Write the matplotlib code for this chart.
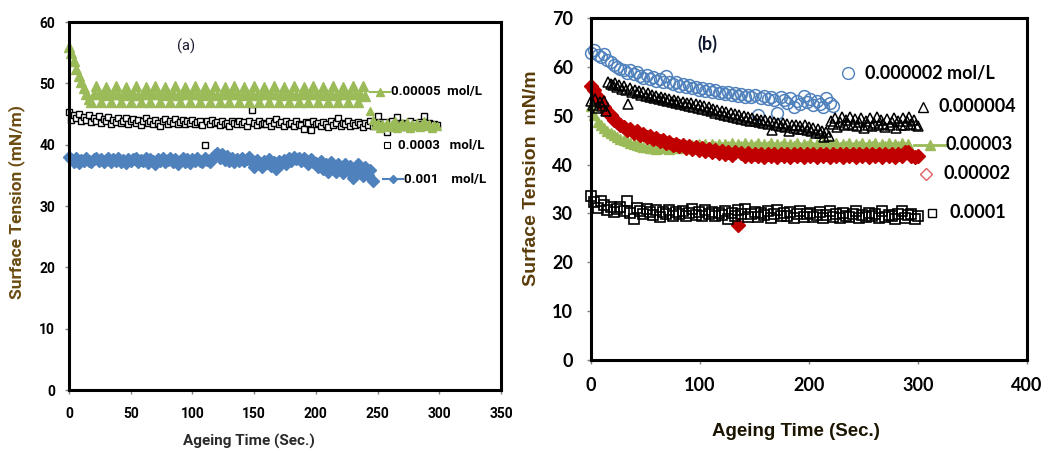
import numpy as np
import matplotlib
matplotlib.use("Agg")
import matplotlib.pyplot as plt

# ---------------- panel (a) data ----------------
# sampling times (s)
t_a_green = list(range(0, 241, 2))
t_a_green_tail = list(range(244, 299, 2))
t_a_black = list(range(0, 299, 2))
t_a_blue = list(range(0, 247, 2))

st_a_green = [56.0, 55.0, 53.6, 52.4, 51.2, 50.2, 49.2, 48.3, 47.5, 47.0,
              48.2, 49.5, 48.2, 47.0, 48.2, 49.4, 48.1, 47.0,
              48.2, 49.5, 48.2, 47.0, 48.1, 49.4, 48.2, 47.0,
              48.2, 49.5, 48.1, 47.0, 48.2, 49.4, 48.2, 47.0,
              48.2, 49.5, 48.2, 47.0, 48.1, 49.4, 48.2, 47.0,
              48.2, 49.5, 48.1, 47.0, 48.2, 49.4, 48.2, 47.0,
              48.2, 49.5, 48.2, 47.0, 48.1, 49.4, 48.2, 47.0,
              48.2, 49.5, 48.1, 47.0, 48.2, 49.4, 48.2, 47.0,
              48.2, 49.5, 48.2, 47.0, 48.1, 49.4, 48.2, 47.0,
              48.2, 49.5, 48.1, 47.0, 48.2, 49.4, 48.2, 47.0,
              48.2, 49.5, 48.2, 47.0, 48.1, 49.4, 48.2, 47.0,
              48.2, 49.5, 48.1, 47.0, 48.2, 49.4, 48.2, 47.0,
              48.2, 49.5, 48.2, 47.0, 48.1, 49.4, 48.2, 47.0,
              48.2, 49.5, 48.1, 47.0, 48.2, 49.4, 48.2, 47.0,
              48.2, 49.5, 48.2, 47.0,
              48.2, 49.5, 48.0]
st_a_green_tail = [45.5, 44.0, 43.2, 43.5, 42.8, 43.4, 43.0, 43.6, 42.9, 43.3,
                   43.8, 42.7, 43.2, 43.5, 43.0, 43.7, 42.8, 43.4, 43.1, 43.6,
                   42.9, 43.3, 43.8, 43.0, 43.4, 42.8, 43.2, 43.0]
st_a_black = [45.3, 44.0, 44.9, 44.3, 45.0, 43.9, 44.5, 44.1, 44.8, 43.7,
              44.4, 43.8, 44.6, 43.5, 44.2, 43.9, 44.5, 43.4, 44.1, 43.7,
              44.3, 43.6, 43.9, 44.4, 43.3, 43.8, 44.2, 43.5, 44.0, 43.2,
              43.8, 44.3, 43.5, 43.9, 43.3, 44.1, 43.6, 43.0, 43.8, 44.2,
              43.4, 43.9, 43.6, 44.2, 43.3, 43.7, 44.0, 43.4, 43.8, 43.5,
              44.1, 43.3, 43.7, 43.9, 43.2, 40.0, 43.8, 43.4, 44.0, 43.5,
              43.7, 43.2, 43.9, 43.4, 43.6, 43.0, 43.8, 43.5, 43.3, 43.9,
              43.4, 43.7, 43.1, 43.8, 45.7, 43.5, 43.2, 43.9, 43.4, 43.6,
              43.3, 43.8, 43.0, 43.6, 44.2, 43.4, 43.7, 43.1, 43.9, 43.3,
              43.6, 43.0, 43.8, 43.4, 43.2, 42.6, 43.7, 43.5, 42.4, 43.8,
              43.3, 43.6, 43.0, 43.7, 43.4, 42.9, 43.8, 43.2, 43.5, 44.3,
              43.1, 43.6, 43.3, 43.8, 43.0, 43.5, 43.2, 43.7, 43.4, 42.9,
              43.6, 43.2, 43.8, 43.0, 43.5, 44.6, 43.3, 43.1, 43.7, 42.1,
              43.4, 43.8, 43.0, 44.5, 43.2, 43.6, 42.9, 43.4, 43.8, 43.1,
              43.5, 43.0, 43.7, 43.3, 44.6, 43.1, 43.5, 42.9, 43.4, 43.2]
st_a_blue = [38.0, 37.6, 37.2, 37.8, 37.0, 37.5, 37.3, 37.9, 37.4, 37.1,
             37.6, 37.9, 37.3, 37.7, 37.2, 37.5, 37.8, 37.1, 37.6, 37.4,
             37.8, 37.2, 37.5, 37.0, 37.7, 37.3, 37.6, 37.9, 37.2, 37.5,
             37.3, 37.8, 37.0, 37.6, 37.4, 36.9, 37.7, 37.3, 37.8, 37.1,
             37.5, 37.9, 37.2, 37.6, 36.9, 37.4, 37.8, 37.2, 37.6, 37.0,
             37.7, 37.3, 37.9, 37.4, 37.1, 37.8, 37.5, 37.2, 37.9, 38.3,
             38.6, 37.8, 38.4, 37.5, 38.2, 37.4, 37.9, 37.2, 37.7, 37.4,
             37.8, 37.3, 37.6, 38.0, 37.2, 36.4, 37.5, 37.0, 36.3, 37.4,
             37.0, 37.6, 36.5, 37.2, 36.1, 37.4, 36.8, 37.5, 36.9, 37.8,
             37.4, 38.0, 37.6, 37.9, 37.3, 37.8, 37.5, 36.9, 37.6, 37.2,
             37.0, 36.4, 37.3, 36.0, 36.8, 35.5, 37.2, 36.3, 35.6, 36.9,
             36.2, 35.4, 36.8, 35.8, 36.5, 34.6, 35.2, 36.9, 35.8, 34.9,
             36.3, 35.0, 35.8, 34.0]

labels_a = ["0.00005  mol/L", "0.0003   mol/L", "0.001    mol/L"]

# ---------------- panel (b) data ----------------
t_b_circ = list(range(0, 223, 3))
t_b_tri = list(range(0, 301, 2))
t_b_green = list(range(0, 292, 3))
t_b_red = list(range(0, 301, 3))
t_b_sq = list(range(0, 301, 3))

st_b_circ = [62.8, 63.4, 62.5, 62.0, 62.6, 61.5, 61.0, 60.4, 60.0, 59.6,
             59.3, 58.8, 59.4, 58.5, 58.9, 58.2, 57.8, 58.3, 57.6, 57.9,
             57.2, 57.6, 56.9, 58.2, 56.8, 56.4, 56.9, 56.1, 56.5, 55.8,
             56.2, 55.6, 55.9, 55.3, 55.7, 55.0, 55.4, 54.9, 55.2, 54.7,
             54.9, 54.5, 54.8, 54.2, 54.6, 54.0, 54.5, 53.9, 54.3, 53.8,
             54.2, 50.2, 53.7, 54.1, 53.5, 53.9, 53.2, 50.6, 53.8, 53.3,
             52.6, 53.6, 51.8, 53.1, 52.5, 54.0, 52.8, 53.5, 52.2, 53.0,
             52.4, 51.8, 53.6, 52.6, 51.9]
st_b_tri = [53.0, 52.2, 53.4, 51.5, 52.8, 52.0, 53.1, 51.0, 56.9, 56.5,
            56.2, 56.6, 55.8, 56.3, 55.5, 56.0, 55.2, 52.5, 55.6, 54.9,
            55.3, 54.6, 55.0, 54.3, 54.8, 54.0, 54.6, 53.8, 54.3, 53.6,
            54.1, 53.4, 53.9, 53.2, 53.7, 53.0, 53.5, 52.8, 53.3, 52.6,
            53.1, 52.4, 52.9, 52.2, 52.7, 52.0, 52.6, 51.8, 52.4, 51.6,
            52.2, 51.4, 51.9, 51.1, 51.7, 50.9, 51.4, 50.6, 51.2, 50.4,
            51.0, 50.2, 50.8, 50.0, 50.6, 49.8, 50.4, 49.6, 50.2, 49.4,
            50.0, 49.2, 49.8, 49.0, 49.6, 48.9, 49.4, 48.7, 49.2, 48.5,
            49.1, 48.3, 48.9, 47.1, 48.8, 48.0, 48.6, 47.9, 48.5, 47.7,
            48.4, 46.8, 48.2, 47.5, 48.1, 47.3, 47.9, 47.2, 48.0, 47.0,
            47.7, 46.9, 47.5, 46.4, 47.2, 46.5, 46.9, 45.6, 46.6, 45.9,
            49.0, 48.3, 49.5, 47.6, 48.8, 49.7, 48.0, 49.1, 48.4, 49.8,
            48.1, 49.3, 47.9, 48.7, 49.6, 47.4, 48.9, 48.2, 49.5, 47.8,
            48.6, 49.7, 48.0, 49.2, 48.4, 47.6, 49.4, 48.1, 48.8, 49.6,
            47.5, 48.9, 48.2, 49.5, 48.0, 49.0, 49.8, 48.3, 49.2, 48.1,
            47.8]
st_b_green = [52.0, 50.2, 48.8, 48.0, 47.4, 46.9, 46.4, 46.0, 45.6, 45.3,
              45.0, 44.8, 44.5, 44.2, 44.0, 43.8, 43.6, 43.5, 43.3, 43.4,
              43.2, 43.6, 43.3, 43.7, 43.2, 43.8, 43.3, 43.9, 43.4, 44.0,
              43.5, 44.1, 43.6, 44.2, 43.5, 44.3, 43.6, 44.2, 43.7, 44.3,
              43.6, 44.3, 43.7, 44.4, 43.6, 44.3, 43.7, 44.4, 43.6, 44.3,
              43.7, 44.4, 43.6, 44.3, 43.7, 44.4, 43.6, 44.3, 43.7, 44.4,
              43.6, 44.3, 43.7, 44.4, 43.6, 44.3, 43.7, 44.4, 43.6, 44.3,
              43.7, 44.4, 43.6, 44.3, 43.7, 44.4, 43.6, 44.3, 43.7, 44.4,
              43.6, 44.3, 43.7, 44.4, 43.6, 44.3, 43.7, 44.4, 43.6, 44.3,
              43.7, 44.4, 43.6, 44.3, 43.7, 44.4, 43.6, 44.2]
st_b_red = [56.0, 55.2, 53.8, 52.6, 51.8, 50.7, 50.1, 49.2, 48.8, 48.0,
            47.7, 47.1, 47.3, 46.5, 46.8, 46.0, 46.2, 45.6, 45.8, 45.2,
            45.4, 44.8, 45.0, 44.4, 44.6, 44.0, 44.3, 43.7, 44.0, 43.4,
            43.7, 43.1, 43.5, 42.9, 43.3, 42.7, 43.1, 42.5, 42.9, 42.3,
            42.7, 42.2, 42.6, 42.0, 42.5, 27.7, 42.4, 41.8, 42.3, 41.7,
            42.2, 41.7, 42.2, 41.6, 42.2, 41.7, 42.1, 41.6, 42.2, 41.7,
            42.2, 41.6, 42.1, 41.7, 42.2, 41.6, 42.1, 41.7, 42.2, 41.6,
            42.2, 41.7, 42.1, 41.6, 42.2, 41.7, 42.1, 41.6, 42.2, 41.7,
            42.2, 41.6, 42.1, 41.7, 42.2, 41.6, 42.1, 41.7, 42.2, 41.6,
            42.2, 41.7, 42.1, 41.6, 42.2, 41.7, 42.5, 42.6, 41.8, 41.6,
            41.8]
st_b_sq = [33.6, 32.4, 31.2, 32.5, 31.8, 30.6, 31.3, 30.2, 30.9, 31.4,
           30.5, 32.6, 30.1, 28.8, 31.2, 30.4, 29.8, 30.9, 30.2, 29.6,
           30.6, 29.3, 30.3, 29.9, 30.7, 29.5, 30.2, 29.8, 30.5, 29.4,
           30.1, 31.0, 29.7, 30.3, 29.5, 30.8, 29.9, 30.2, 29.4, 30.0,
           29.6, 30.4, 28.9, 30.0, 29.5, 30.6, 29.8, 30.9, 29.3, 29.9,
           30.3, 29.2, 30.0, 29.6, 30.4, 29.1, 29.8, 30.8, 29.4, 30.1,
           29.5, 30.3, 29.0, 29.9, 30.5, 29.3, 29.8, 30.1, 29.2, 29.7,
           30.2, 29.0, 29.6, 30.4, 29.3, 29.8, 29.1, 30.0, 29.5, 29.2,
           29.9, 30.5, 29.1, 29.6, 29.3, 30.0, 29.4, 29.8, 29.0, 30.4,
           29.2, 29.7, 29.5, 28.9, 29.8, 30.5, 29.1, 29.6, 29.9, 28.8,
           29.5]

labels_b = ["0.000002 mol/L", "0.000004", "0.00003", "0.00002", "0.0001"]

GREEN = "#9bbb59"
BLUE = "#4f81bd"
RED = "#c00000"
BROWN = "#6b4c12"
NARROW = ["Liberation Sans Narrow", "Roboto", "DejaVu Sans"]
CALIB = ["Lato", "DejaVu Sans"]
ARIAL = ["Liberation Sans", "DejaVu Sans"]

fig = plt.figure(figsize=(10.42, 4.5), dpi=100)

# ================= panel (a) =================
ax = fig.add_axes([0.0662, 0.1333, 0.4146, 0.8178])
ax.plot(t_a_black, st_a_black, ls="none", marker="s", ms=5, mfc="white",
        mec="black", mew=1.0, clip_on=False)
ax.plot(t_a_green, st_a_green, ls="none", marker="^", ms=7, color=GREEN,
        mec=GREEN, clip_on=False)
ax.plot(t_a_green_tail, st_a_green_tail, ls="none", marker="^", ms=5.5,
        color=GREEN, mec=GREEN, clip_on=False)
ax.plot(t_a_blue, st_a_blue, ls="none", marker="D", ms=6, color=BLUE,
        mec=BLUE, clip_on=False)

ax.set_xlim(0, 350)
ax.set_ylim(0, 60)
ax.set_xticks(range(0, 351, 50))
ax.set_yticks(range(0, 61, 10))
for s in ax.spines.values():
    s.set_linewidth(2.2)
    s.set_color("black")
ax.tick_params(direction="out", length=3, width=1, color="gray")
ax.tick_params(axis="x", pad=9)
ax.tick_params(axis="y", pad=7)
for lab in ax.get_xticklabels() + ax.get_yticklabels():
    lab.set_family(NARROW)
    lab.set_fontweight("bold")
    lab.set_fontsize(10)

ax.text(0.27, 0.935, "(a)", transform=ax.transAxes, family=NARROW,
        fontsize=10.5, ha="center", va="center", color="#1a1a2e")

# scattered legend keys
ax.plot([0.697, 0.742], [0.81, 0.81], transform=ax.transAxes, color=GREEN,
        lw=1.5, clip_on=False)
ax.plot([0.72], [0.81], transform=ax.transAxes, marker="^", ms=6,
        color=GREEN, clip_on=False)
ax.text(0.745, 0.81, labels_a[0], transform=ax.transAxes, family=NARROW,
        fontweight="bold", fontsize=9.5, va="center")
ax.plot([0.736], [0.665], transform=ax.transAxes, marker="s", ms=4,
        mfc="white", mec="black", mew=0.8, clip_on=False)
ax.text(0.762, 0.665, labels_a[1], transform=ax.transAxes, family=NARROW,
        fontweight="bold", fontsize=9.5, va="center")
ax.plot([0.727, 0.773], [0.573, 0.573], transform=ax.transAxes, color=BLUE,
        lw=1.5, clip_on=False)
ax.plot([0.75], [0.573], transform=ax.transAxes, marker="D", ms=4.5,
        color=BLUE, clip_on=False)
ax.text(0.776, 0.573, labels_a[2], transform=ax.transAxes, family=NARROW,
        fontweight="bold", fontsize=9.5, va="center")

fig.text(17 / 1042, 1 - 202 / 450, "Surface Tension (mN/m)", rotation=90,
         family=NARROW, fontweight="bold", fontsize=12.5, color=BROWN,
         ha="center", va="center")
fig.text(249 / 1042, 1 - 441 / 450, "Ageing Time (Sec.)", family=NARROW,
         fontweight="bold", fontsize=11, color="#2b2b2b",
         ha="center", va="center")

# ================= panel (b) =================
bx = fig.add_axes([0.5672, 0.2, 0.4184, 0.76])
bx.plot(t_b_green, st_b_green, ls="none", marker="^", ms=7, color=GREEN,
        mec=GREEN, clip_on=False)
bx.plot(t_b_red, st_b_red, ls="none", marker="D", ms=7, color=RED,
        mec=RED, clip_on=False)
bx.plot(t_b_sq, st_b_sq, ls="none", marker="s", ms=6.5, mfc="none",
        mec="black", mew=1.2, clip_on=False)
bx.plot(t_b_circ, st_b_circ, ls="none", marker="o", ms=8.5, mfc="none",
        mec=BLUE, mew=1.1, clip_on=False)
bx.plot(t_b_tri, st_b_tri, ls="none", marker="^", ms=7.5, mfc="none",
        mec="black", mew=1.1, clip_on=False)

bx.set_xlim(0, 400)
bx.set_ylim(0, 70)
bx.set_xticks(range(0, 401, 100))
bx.set_yticks(range(0, 71, 10))
for s in bx.spines.values():
    s.set_linewidth(2.2)
    s.set_color("black")
bx.tick_params(direction="out", length=3, width=1, color="gray")
bx.tick_params(axis="y", pad=10)
bx.tick_params(axis="x", pad=9)
for lab in bx.get_xticklabels() + bx.get_yticklabels():
    lab.set_family(CALIB)
    lab.set_fontweight("bold")
    lab.set_fontsize(13)

bx.text(0.266, 0.925, "(b)", transform=bx.transAxes, family=CALIB,
        fontweight="bold", fontsize=13, ha="center", va="center",
        color="#10182e")

bx.plot([0.59], [0.839], transform=bx.transAxes, marker="o", ms=8.5,
        mfc="none", mec=BLUE, mew=1, clip_on=False)
bx.text(0.628, 0.839, labels_b[0], transform=bx.transAxes, family=CALIB,
        fontweight="bold", fontsize=13, va="center")
bx.plot([0.761], [0.74], transform=bx.transAxes, marker="^", ms=7.5,
        mfc="none", mec="black", mew=1, clip_on=False)
bx.text(0.798, 0.74, labels_b[1], transform=bx.transAxes, family=CALIB,
        fontweight="bold", fontsize=13, va="center")
bx.plot([0.741, 0.814], [0.629, 0.629], transform=bx.transAxes,
        color=GREEN, lw=2, clip_on=False)
bx.plot([0.778], [0.629], transform=bx.transAxes, marker="^", ms=7,
        color=GREEN, clip_on=False)
bx.text(0.814, 0.629, labels_b[2], transform=bx.transAxes, family=CALIB,
        fontweight="bold", fontsize=13, va="center")
bx.plot([0.768], [0.544], transform=bx.transAxes, marker="D", ms=6,
        mfc="none", mec="#e06060", mew=1, clip_on=False)
bx.text(0.808, 0.544, labels_b[3], transform=bx.transAxes, family=CALIB,
        fontweight="bold", fontsize=13, va="center")
bx.plot([0.782], [0.43], transform=bx.transAxes, marker="s", ms=6,
        mfc="none", mec="black", mew=1, clip_on=False)
bx.text(0.822, 0.43, labels_b[4], transform=bx.transAxes, family=CALIB,
        fontweight="bold", fontsize=13, va="center")

fig.text(532 / 1042, 1 - 178 / 450, "Surface Tension  mN/m", rotation=90,
         family=ARIAL, fontweight="bold", fontsize=14, color="#5a3c0a",
         ha="center", va="center")
fig.text(796 / 1042, 1 - 432 / 450, "Ageing Time (Sec.)", family=ARIAL,
         fontweight="bold", fontsize=13.5, color="#1a1400",
         ha="center", va="center")

fig.savefig("out.png", dpi=100)
